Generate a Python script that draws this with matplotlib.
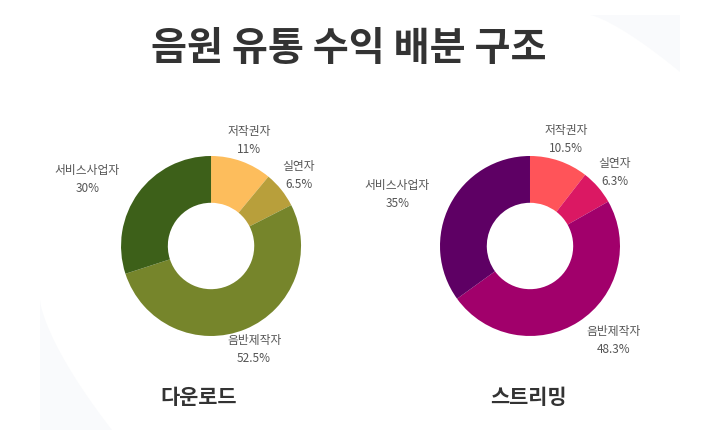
import numpy as np
import matplotlib.pyplot as plt
from matplotlib.patches import Polygon

plt.rcParams['font.family'] = ['Noto Sans CJK KR', 'DejaVu Sans']

# 데이터
categories = ['저작권자', '실연자', '음반제작자', '서비스사업자']
download_share = [11, 6.5, 52.5, 30]
streaming_share = [10.5, 6.3, 48.3, 35]
download_labels = ['11%', '6.5%', '52.5%', '30%']
streaming_labels = ['10.5%', '6.3%', '48.3%', '35%']

download_colors = ['#FDBD5C', '#B89F3B', '#76852B', '#3D6019']
streaming_colors = ['#FF5459', '#DB1863', '#A1006B', '#5E0064']

W, H = 720, 437


def donut(ax, values, pct_labels, colors, title, title_dx, bottom_dx):
    wedges, _ = ax.pie(values, colors=colors, startangle=90, counterclock=False,
                       radius=1.0, wedgeprops=dict(width=0.52, edgecolor='none'))
    for i, (w, name, pct) in enumerate(zip(wedges, categories, pct_labels)):
        ang = np.deg2rad((w.theta1 + w.theta2) / 2)
        x, y = 1.25 * np.cos(ang), 1.25 * np.sin(ang)
        ha = 'center' if x >= 0 else 'right'
        if i == 2:
            x += bottom_dx
        ax.text(x, y, f'{name}\n{pct}', ha=ha, va='center', fontsize=8.5,
                color='#555555', linespacing=1.5, multialignment='center')
    ax.text(title_dx, -1.68, title, ha='center', va='center', fontsize=15,
            fontweight='bold', color='#333333')
    ax.set_xlim(-1.6, 1.6)
    ax.set_ylim(-1.6, 1.6)
    ax.set_aspect('equal')
    ax.axis('off')


fig = plt.figure(figsize=(7.2, 4.37), dpi=100)
fig.patch.set_facecolor('white')

# 배경 장식
t = np.linspace(0, 1, 30)
tr = [(590 + 90 * s, 15 + 57 * s ** 1.3) for s in t] + [(680, 15)]
bl = [(40 + 72 * s ** 1.4, 300 + 130 * s) for s in t] + [(40, 430)]
for pts in (tr, bl):
    fig.patches.append(Polygon([(x / W, 1 - y / H) for x, y in pts], closed=True,
                               transform=fig.transFigure, facecolor='#F9FAFC',
                               edgecolor='none', zorder=0))

ax1 = fig.add_axes([0.0931, 0.1076, 0.4, 0.659])
ax2 = fig.add_axes([0.5361, 0.1076, 0.4, 0.659])

donut(ax1, download_share, download_labels, download_colors, '다운로드', -0.14, 0.0)
donut(ax2, streaming_share, streaming_labels, streaming_colors, '스트리밍', -0.02, 0.25)

fig.text(349 / W, 1 - 48 / H, '음원 유통 수익 배분 구조', ha='center', va='center',
         fontsize=28.2, fontweight='bold', color='#333333')

fig.savefig('out.png', dpi=100, facecolor='white')
